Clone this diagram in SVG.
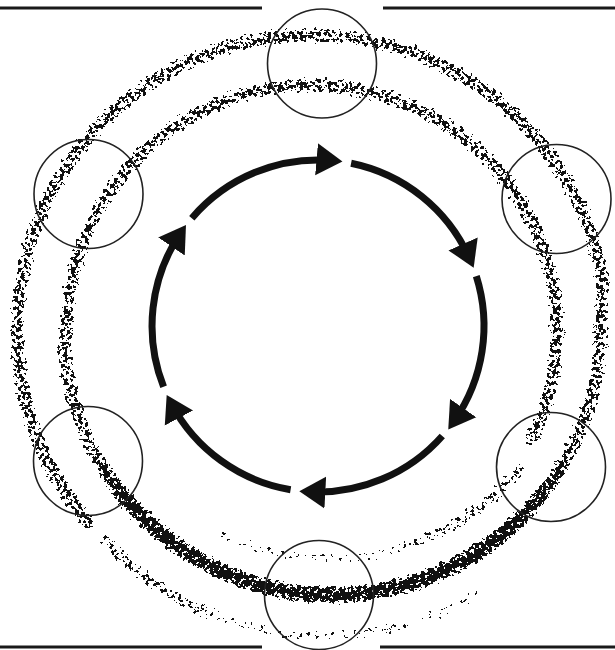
<svg xmlns="http://www.w3.org/2000/svg" width="615" height="650" viewBox="0 0 615 650">
<style>
.node{fill:none;stroke:#222;stroke-width:1.6}
.arc{fill:none;stroke:#111;stroke-width:7;marker-end:url(#ah)}
.rule{stroke:#1a1a1a;stroke-width:3}
.band{fill:none;stroke:#000;stroke-width:15}
</style>
<defs>
<marker id="ah" markerUnits="userSpaceOnUse" markerWidth="27" markerHeight="34" viewBox="0 -17 27 34" refX="16" refY="0" orient="auto">
<path d="M0,-16 L26,0 L0,16 Z" fill="#111"/>
</marker>
<filter id="stip" filterUnits="userSpaceOnUse" x="0" y="0" width="615" height="650" color-interpolation-filters="sRGB">
<feGaussianBlur in="SourceAlpha" stdDeviation="4" result="b"/>
<feTurbulence type="fractalNoise" baseFrequency="0.28" numOctaves="2" seed="7" result="t"/>
<feColorMatrix in="t" type="matrix" values="0 0 0 0 0 0 0 0 0 0 0 0 0 0 0 1 0 0 0 0" result="n"/>
<feComposite in="b" in2="n" operator="arithmetic" k1="4" k2="-1.11" k3="0" k4="-0.3" result="m"/>
<feComponentTransfer in="m" result="d"><feFuncA type="discrete" tableValues="0 1"/></feComponentTransfer>
<feFlood flood-color="#111"/>
<feComposite in2="d" operator="in"/>
</filter>
<filter id="stipDark" filterUnits="userSpaceOnUse" x="0" y="0" width="615" height="650" color-interpolation-filters="sRGB">
<feGaussianBlur in="SourceAlpha" stdDeviation="5.5" result="b"/>
<feTurbulence type="fractalNoise" baseFrequency="0.28" numOctaves="2" seed="11" result="t"/>
<feColorMatrix in="t" type="matrix" values="0 0 0 0 0 0 0 0 0 0 0 0 0 0 0 1 0 0 0 0" result="n"/>
<feComposite in="b" in2="n" operator="arithmetic" k1="4" k2="-0.6" k3="0" k4="-0.34" result="m"/>
<feComponentTransfer in="m" result="d"><feFuncA type="discrete" tableValues="0 1"/></feComponentTransfer>
<feFlood flood-color="#111"/>
<feComposite in2="d" operator="in"/>
</filter>
</defs>
<rect width="615" height="650" fill="#fff"/>
<g id="rules">
<line class="rule" x1="0" y1="8" x2="262" y2="8"/>
<line class="rule" x1="383" y1="8" x2="615" y2="8"/>
<line class="rule" x1="0" y1="647" x2="262" y2="647"/>
<line class="rule" x1="380" y1="647" x2="615" y2="647"/>
</g>
<g id="rings" filter="url(#stip)">
<path class="band" d="M92.8,527.4 A295,295 0 1 1 602.5,278.8 L600,349.4 A269,269 0 0 1 64,349.4 L67.9,308.6 A245,245 0 1 1 528.3,445"/>
<path class="band" stroke-opacity="0.78" d="M211.6,614.2 A300,300 0 0 1 101.1,536.7"/>
<path class="band" stroke-opacity="0.6" d="M483,590.4 A300,300 0 0 1 211.6,614.2"/>
<path class="band" stroke-opacity="0.75" d="M524.4,462.7 A248,248 0 0 1 413.8,543"/>
<path class="band" stroke-opacity="0.58" d="M413.8,543 A248,248 0 0 1 212.6,529"/>
</g>
<g id="ring-crossing" filter="url(#stipDark)">
<path class="band" stroke-width="14" stroke-opacity="0.8" d="M565,460.5 A269,269 0 0 1 99,460.5"/>
<path class="band" stroke-width="24" d="M522.2,516.2 A269,269 0 0 1 120,491.6"/>
</g>
<g id="node-top"><circle class="node" cx="322" cy="63.5" r="54.5"/></g>
<g id="node-upper-right"><circle class="node" cx="556.5" cy="199" r="54.5"/></g>
<g id="node-lower-right"><circle class="node" cx="551" cy="467" r="54.5"/></g>
<g id="node-bottom"><circle class="node" cx="319" cy="595" r="54.5"/></g>
<g id="node-lower-left"><circle class="node" cx="88" cy="461" r="54.5"/></g>
<g id="node-upper-left"><circle class="node" cx="88.5" cy="194" r="54.5"/></g>
<g id="connectors">
<path class="arc" d="M351.1,163.3 A166,166 0 0 1 469.6,258.5"/>
<path class="arc" d="M476.3,276.1 A166,166 0 0 1 454,421.2"/>
<path class="arc" d="M442.3,436 A166,166 0 0 1 309.3,491.8"/>
<path class="arc" d="M290.6,489.7 A166,166 0 0 1 171.4,403.9"/>
<path class="arc" d="M163.6,386.8 A166,166 0 0 1 180.4,233.2"/>
<path class="arc" d="M191.8,218.2 A166,166 0 0 1 332.5,160.6"/>
</g>
</svg>
